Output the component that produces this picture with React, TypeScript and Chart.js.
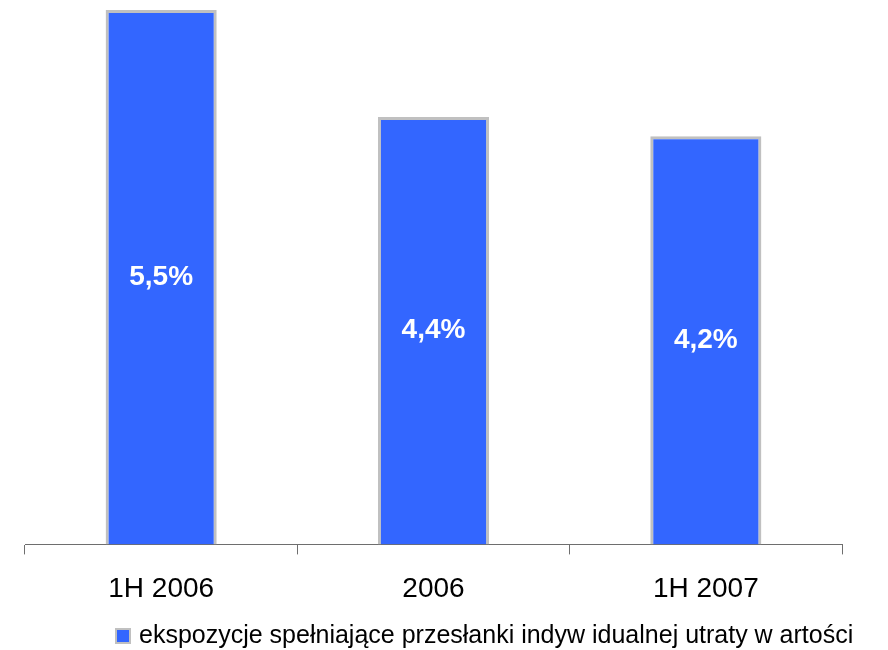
import React, { useEffect, useRef } from "react";
import { Chart, registerables } from "chart.js";

Chart.register(...registerables);

const categories = ["1H 2006", "2006", "1H 2007"];
const values = [5.5, 4.4, 4.2];
const valueLabels = ["5,5%", "4,4%", "4,2%"];
const seriesName = "ekspozycje spełniające przesłanki indyw idualnej utraty w artości";

const BAR_COLOR = "#3366FF";
const BAR_BORDER = "#C0C0C0";
const FONT = "Liberation Sans, Arial, sans-serif";

const valueLabelPlugin = {
  id: "valueLabels",
  afterDatasetsDraw(chart: any) {
    const ctx = chart.ctx;
    const meta = chart.getDatasetMeta(0);
    ctx.save();
    ctx.fillStyle = "#FFFFFF";
    ctx.font = `bold 28px ${FONT}`;
    ctx.textAlign = "center";
    ctx.textBaseline = "middle";
    meta.data.forEach((bar: any, i: number) => {
      const y = (bar.y + bar.base) / 2;
      ctx.fillText(valueLabels[i], bar.x, y);
    });
    ctx.restore();
  },
};

const customLegendPlugin = {
  id: "customLegend",
  afterDraw(chart: any) {
    const ctx = chart.ctx;
    ctx.save();
    const boxX = 115;
    const boxY = 628;
    const size = 16;
    ctx.fillStyle = BAR_COLOR;
    ctx.fillRect(boxX, boxY, size, size);
    ctx.strokeStyle = BAR_BORDER;
    ctx.lineWidth = 2;
    ctx.strokeRect(boxX + 1, boxY + 1, size - 2, size - 2);
    ctx.fillStyle = "#000000";
    ctx.font = `25px ${FONT}`;
    ctx.textAlign = "left";
    ctx.textBaseline = "alphabetic";
    ctx.fillText(chart.data.datasets[0].label, 139, 643);
    ctx.restore();
  },
};

export default function App() {
  const canvasRef = useRef<HTMLCanvasElement | null>(null);

  useEffect(() => {
    if (!canvasRef.current) return;
    const chart = new Chart(canvasRef.current, {
      type: "bar",
      data: {
        labels: categories,
        datasets: [
          {
            label: seriesName,
            data: values,
            backgroundColor: BAR_COLOR,
            borderColor: BAR_BORDER,
            borderWidth: 3,
            categoryPercentage: 1,
            barPercentage: 0.408,
          },
        ],
      },
      options: {
        responsive: false,
        animation: false,
        layout: { padding: { left: 25, right: 46, top: 10, bottom: 26 } },
        plugins: {
          legend: { display: false },
          tooltip: { enabled: false },
        },
        scales: {
          x: {
            grid: {
              display: true,
              drawOnChartArea: false,
              drawTicks: true,
              tickLength: 10,
              color: "#6E6E6E",
              offset: true,
            },
            border: { display: true, color: "#6E6E6E", width: 1 },
            ticks: {
              color: "#000000",
              font: { family: FONT, size: 28 },
              padding: 18,
            },
          },
          y: {
            display: false,
            min: 0,
            max: 5.5,
          },
        },
      },
      plugins: [valueLabelPlugin, customLegendPlugin],
    });
    return () => chart.destroy();
  }, []);

  return (
    <div style={{ position: "fixed", left: 0, top: 0, width: 888, height: 650, background: "#FFFFFF" }}>
      <canvas ref={canvasRef} width={888} height={650} style={{ width: 888, height: 650 }} />
    </div>
  );
}
